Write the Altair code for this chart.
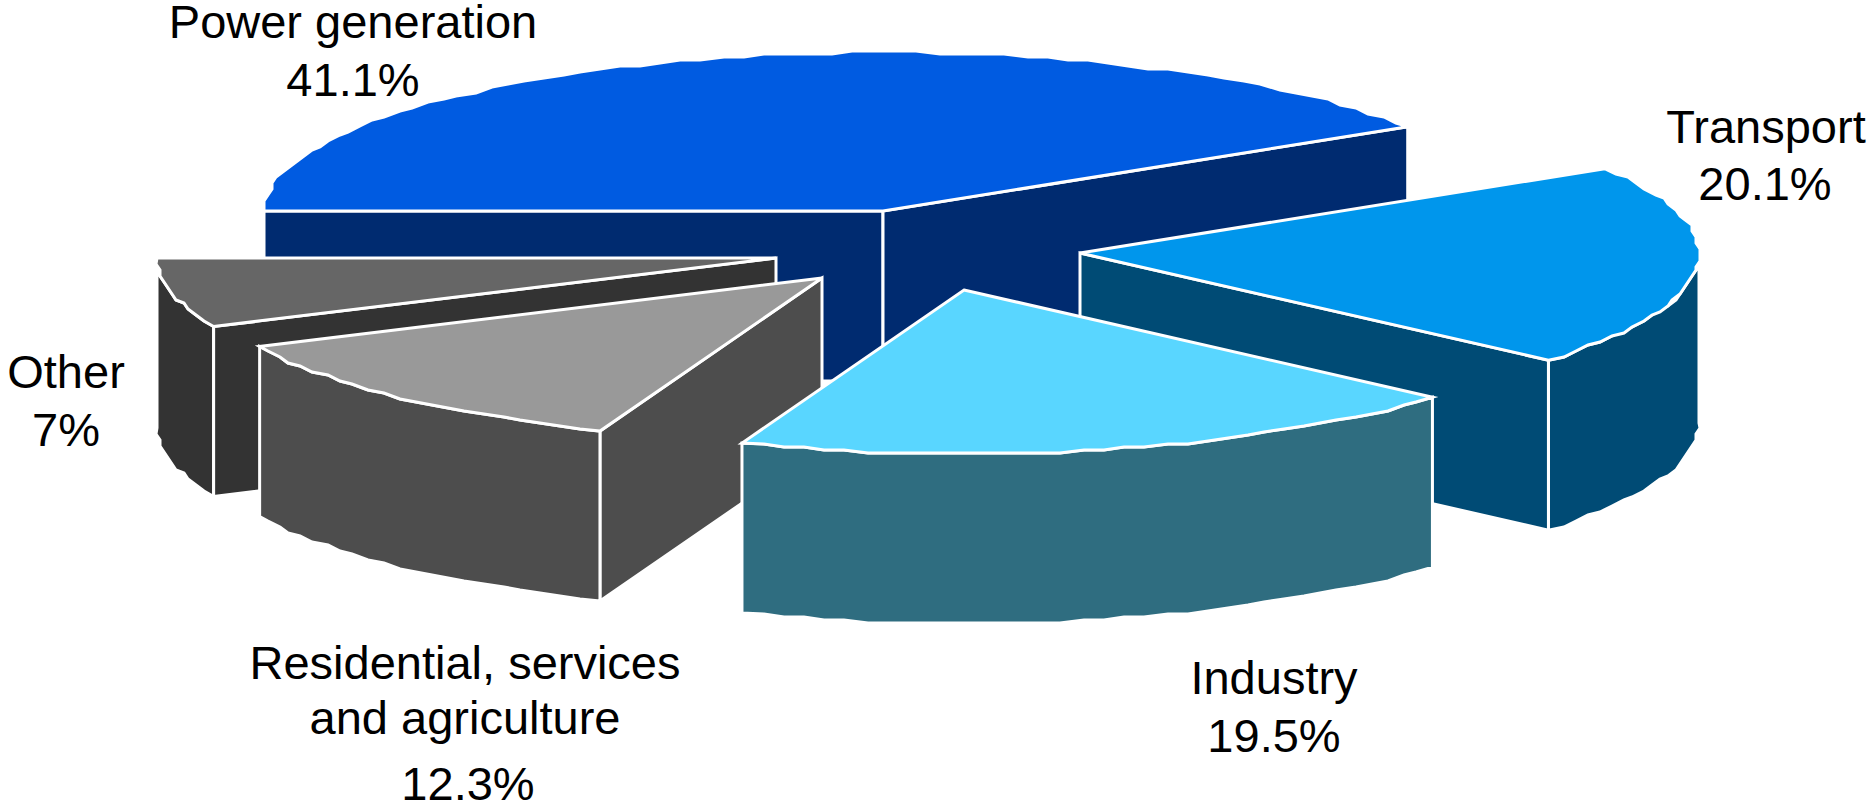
import math
import altair as alt
import pandas as pd

# Shares of the total, in percent, clockwise from the nine o'clock position.
sectors = ["Power generation", "Transport", "Industry", "Residential", "Other"]
shares = [41.1, 20.1, 19.5, 12.3, 7.0]

top_colors = ["#005BE1", "#0096EC", "#59D6FF", "#999999", "#666666"]
side_colors = ["#002B70", "#004B75", "#2F6D80", "#4D4D4D", "#333333"]

# Pull-out position of each slice's apex on the canvas.
apex_x = [883, 1080, 964, 822, 776]
apex_y = [211, 253, 290, 278, 258]

label_lines = [
    ("Power generation", 353, 38),
    ("41.1%", 353, 96),
    ("Transport", 1766, 143),
    ("20.1%", 1765, 200),
    ("Other", 66, 388),
    ("7%", 66, 446),
    ("Residential, services", 465, 679),
    ("and agriculture", 465, 734),
    ("12.3%", 468, 800),
    ("Industry", 1274, 694),
    ("19.5%", 1274, 752),
]

RX, RY_BACK, RY_FRONT, DEPTH = 619, 159, 164, 170
W, H = 1870, 806


def on_rim(i, deg):
    """Projected rim point of slice i at an ellipse angle in degrees."""
    t = math.radians(deg)
    s = math.sin(t)
    ry = RY_BACK if s > 0 else RY_FRONT
    return apex_x[i] + RX * math.cos(t), apex_y[i] - ry * s


def arc(i, a, b):
    """Rim points from angle a to angle b, with the coarse vertex grid of the outline."""
    n = max(2, int(abs(b - a) / 2))
    pts = []
    for k in range(n + 1):
        x, y = on_rim(i, a + (b - a) * k / n)
        if 0 < k < n:
            x, y = round(x / 4) * 4, round(y / 3) * 3
        pts.append((x, y))
    return pts


def down(pts):
    return [(x, y + DEPTH) for x, y in pts]


def polygon(pts, color):
    df = pd.DataFrame(pts, columns=["x", "y"])
    df["i"] = range(len(df))
    return (
        alt.Chart(df)
        .mark_line(
            interpolate="linear-closed",
            fill=color,
            stroke="white",
            strokeWidth=3,
            strokeJoin="miter",
            clip=False,
        )
        .encode(
            x=alt.X("x:Q", scale=x_scale, axis=None),
            y=alt.Y("y:Q", scale=y_scale, axis=None),
            order=alt.Order("i:Q"),
        )
    )


x_scale = alt.Scale(domain=[0, W], range=[0, W], nice=False, zero=False)
y_scale = alt.Scale(domain=[0, H], range=[0, H], nice=False, zero=False)

# Slice boundaries follow directly from the shares; the front of the rim is
# turned slightly clockwise.
bounds = [180.0]
for share in shares:
    bounds.append(bounds[-1] - share * 3.6)
bounds = bounds[:2] + [b - 0.5 for b in bounds[2:-1]] + [bounds[-1]]


def top(i):
    return polygon([(apex_x[i], apex_y[i])] + arc(i, bounds[i], bounds[i + 1]), top_colors[i])


def rim(i, a, b):
    pts = arc(i, a, b)
    return polygon(pts + down(pts)[::-1], side_colors[i])


def wall(i, deg):
    p = [(apex_x[i], apex_y[i]), on_rim(i, deg)]
    return polygon(p + down(p)[::-1], side_colors[i])


POWER, TRANSPORT, INDUSTRY, RESIDENTIAL, OTHER = range(5)

layers = [
    wall(POWER, bounds[0]),
    wall(POWER, bounds[1]),
    top(POWER),
    rim(TRANSPORT, bounds[2], 0),
    wall(TRANSPORT, bounds[2]),
    top(TRANSPORT),
    rim(OTHER, bounds[4], -180),
    wall(OTHER, bounds[4]),
    top(OTHER),
    wall(RESIDENTIAL, bounds[3]),
    rim(RESIDENTIAL, bounds[3], bounds[4]),
    top(RESIDENTIAL),
    rim(INDUSTRY, bounds[2], bounds[3]),
    top(INDUSTRY),
]

text_df = pd.DataFrame(label_lines, columns=["text", "x", "y"])
labels = (
    alt.Chart(text_df)
    .mark_text(
        font="Liberation Sans",
        fontSize=47,
        color="black",
        align="center",
        baseline="alphabetic",
    )
    .encode(
        x=alt.X("x:Q", scale=x_scale, axis=None),
        y=alt.Y("y:Q", scale=y_scale, axis=None),
        text="text:N",
    )
)

chart = (
    alt.layer(*layers, labels)
    .properties(
        width=W,
        height=H,
        padding=0,
        autosize=alt.AutoSizeParams(type="none"),
        background="white",
    )
    .configure_view(stroke=None)
)

chart.save("out.html", embed_options={"renderer": "svg", "actions": False})
